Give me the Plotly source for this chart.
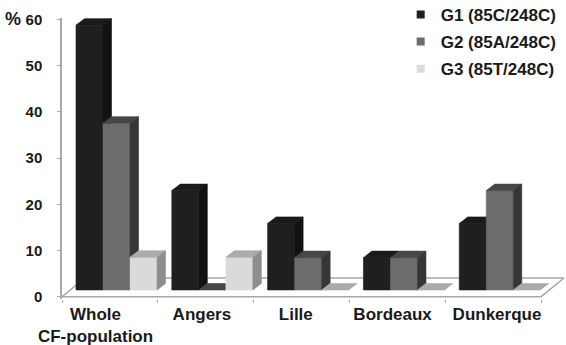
import plotly.graph_objects as go

categories = ["Whole<br>CF-population", "Angers", "Lille", "Bordeaux", "Dunkerque"]
series_names = ["G1 (85C/248C)", "G2 (85A/248C)", "G3 (85T/248C)"]
g1 = [57.3, 21.5, 14.4, 7.0, 14.4]
g2 = [36.1, 0.0, 7.0, 7.0, 21.5]
g3 = [7.1, 7.1, 0.0, 0.0, 0.0]
y_ticks = [0, 10, 20, 30, 40, 50, 60]

series = [g1, g2, g3]
# front, top, side colours per series
face_colors = [
    ("#1f1f1f", "#1a1a1a", "#121212"),
    ("#6c6c6c", "#474747", "#363636"),
    ("#dadada", "#ababab", "#8e8e8e"),
]

# pseudo-3D geometry (in axis units)
bar_w = 0.282
group_off = 0.146
base = 1.45
ddx = 0.0885
ddy = 1.41
floor_dx = 0.24
floor_dy = 4.05

fig = go.Figure()

# floor
n = len(categories)
fx = [-0.5, n - 0.5, n - 0.5 + floor_dx, -0.5 + floor_dx, -0.5]
fy = [0, 0, floor_dy, floor_dy, 0]
fig.add_trace(go.Scatter(x=fx, y=fy, mode="lines", fill="toself", fillcolor="white",
                         line=dict(color="#a8a8a8", width=1.5), hoverinfo="skip", showlegend=False))

for j, vals in enumerate(series):
    cf, ct, cs = face_colors[j]
    front_x, front_y, top_x, top_y, side_x, side_y = [], [], [], [], [], []
    for i, v in enumerate(vals):
        xl = i - 0.5 + group_off + j * bar_w
        xr = xl + bar_w
        yb = base
        yt = base + v
        if v > 0:
            front_x += [xl, xr, xr, xl, xl, None]
            front_y += [yb, yb, yt, yt, yb, None]
            side_x += [xr, xr + ddx, xr + ddx, xr, xr, None]
            side_y += [yb, yb + ddy, yt + ddy, yt, yb, None]
        top_x += [xl, xr, xr + ddx, xl + ddx, xl, None]
        top_y += [yt, yt, yt + ddy, yt + ddy, yt, None]
    for xs, ys, c in ((front_x, front_y, cf), (top_x, top_y, ct), (side_x, side_y, cs)):
        if xs:
            fig.add_trace(go.Scatter(x=xs, y=ys, mode="lines", fill="toself", fillcolor=c,
                                     line=dict(color=c, width=0.6), hoverinfo="skip",
                                     showlegend=False))

# legend entries
for j, name in enumerate(series_names):
    fig.add_trace(go.Scatter(x=[None], y=[None], mode="markers", name=name,
                             legendgroup=f"g{j}",
                             marker=dict(symbol="square", size=8, color=face_colors[j][0])))

label_shift = [-0.15, -0.04, -0.06, -0.05, 0.04]
fig.update_layout(
    width=566, height=345,
    margin=dict(l=62, r=0, t=18, b=46, autoexpand=False),
    paper_bgcolor="white", plot_bgcolor="white",
    font=dict(family="Liberation Sans", color="#1a1a1a"),
    xaxis=dict(range=[-0.5, n - 0.5 + 0.26], showgrid=False, zeroline=False, showline=False,
               tickmode="array", tickvals=[i + label_shift[i] for i in range(n)], ticktext=categories,
               ticks="", ticklabelstandoff=3, automargin=False,
               tickfont=dict(size=17, weight="bold", color="#1a1a1a"),
               minor=dict(tickmode="array", tickvals=[i - 0.5 for i in range(n + 1)],
                          ticks="outside", ticklen=3, tickcolor="#a8a8a8", tickwidth=1),
               fixedrange=True),
    yaxis=dict(range=[-0.5, 60.3], showgrid=False, zeroline=False, showline=True,
               linecolor="#a8a8a8", linewidth=1.5, tickmode="array", tickvals=y_ticks,
               ticks="outside", ticklen=3, tickcolor="#a8a8a8",
               ticklabelstandoff=12, automargin=False,
               tickfont=dict(size=15, weight="bold", color="#1a1a1a"), fixedrange=True),
    legend=dict(x=0.672, y=1.075, xanchor="left", yanchor="top", tracegroupgap=2,
                font=dict(size=17, weight="bold", color="#1a1a1a"), bgcolor="rgba(0,0,0,0)"),
    annotations=[dict(text="%", x=-0.098, y=0.995, xref="paper", yref="paper",
                      xanchor="center", yanchor="middle", showarrow=False,
                      font=dict(size=18, weight="bold", color="#1a1a1a"))],
    showlegend=True,
)

fig.write_html("out.html", config={"displayModeBar": False},
               post_script="document.body.style.margin='0';")
